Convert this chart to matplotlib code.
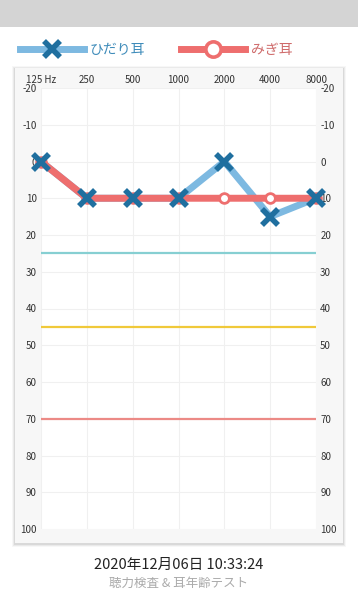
import matplotlib
matplotlib.use("Agg")
import matplotlib.pyplot as plt
from matplotlib.lines import Line2D
from matplotlib.patches import Rectangle

plt.rcParams['font.family'] = ['Noto Sans CJK JP', 'DejaVu Sans']

freq_labels = ["125 Hz", "250", "500", "1000", "2000", "4000", "8000"]
left_ear = [0, 10, 10, 10, 0, 15, 10]
right_ear = [0, 10, 10, 10, 10, 10, 10]
ref_levels = [25, 45, 70]
ref_colors = ['#86cfd2', '#f0c93a', '#ec8a86']
y_ticks = list(range(-20, 101, 10))

W, H = 358, 600
fig = plt.figure(figsize=(W / 100, H / 100), dpi=100)
fig.patch.set_facecolor('white')

def px(x, y, w, h):
    # pixel box (top-left origin) -> figure fraction
    return (x / W, 1 - (y + h) / H, w / W, h / H)

# top grey bar
fig.add_artist(Rectangle(px(0, 0, W, 27)[:2], 1, 27 / H, transform=fig.transFigure,
                         facecolor='#d4d4d4', edgecolor='none', zorder=0))

# card with soft shadow
for i, a in enumerate([0.03, 0.05, 0.07]):
    g = 3 - i
    b = px(15 - g, 68 - g + 1, 328 + 2 * g, 475 + 2 * g)
    fig.add_artist(Rectangle(b[:2], b[2], b[3], transform=fig.transFigure,
                             facecolor='black', alpha=a, edgecolor='none', zorder=0))
b = px(15, 68, 328, 475)
fig.add_artist(Rectangle(b[:2], b[2], b[3], transform=fig.transFigure,
                         facecolor='#f7f7f7', edgecolor='none', zorder=0))

ax = fig.add_axes(px(41, 88, 275, 441))
ax.set_facecolor('white')
x = list(range(len(freq_labels)))

for lvl, c in zip(ref_levels, ref_colors):
    ax.axhline(lvl, color=c, lw=1.6, zorder=2)

blue_line = '#7db9e1'
blue_mark = '#1f6f9f'
red = '#ee6e6e'

ax.plot(x, left_ear, color=blue_line, lw=5, solid_capstyle='round', zorder=3, clip_on=False)
ax.plot(x, right_ear, color=red, lw=5, solid_capstyle='round', zorder=4, clip_on=False,
        marker='o', ms=7, mfc='white', mec=red, mew=2)
ax.plot(x, left_ear, ls='none', marker='x', ms=11, mew=4, color=blue_mark,
        zorder=5, clip_on=False)

ax.set_xlim(0, 6)
ax.set_ylim(100, -20)
ax.set_yticks(y_ticks)
ax.set_yticklabels([str(v) for v in y_ticks])
ax.set_xticks(x)
ax.set_xticklabels(freq_labels)
ax.xaxis.tick_top()
ax.tick_params(axis='x', length=0, pad=2.5, labelsize=7, colors='#333333')
ax.tick_params(axis='y', length=0, pad=3, labelsize=7, colors='#333333',
               left=False, right=False, labelleft=True, labelright=True)
ax.grid(True, color='#f0f0f0', lw=0.8, zorder=1)
for s in ax.spines.values():
    s.set_visible(False)

# legend
handles = [
    Line2D([], [], color=blue_line, lw=5, marker='x', ms=11, mew=4, mec=blue_mark),
    Line2D([], [], color=red, lw=5, marker='o', ms=11, mfc='white', mec=red, mew=2.6),
]
leg = fig.legend(handles, ['ひだり耳', 'みぎ耳'], loc='center left', ncol=2, frameon=False,
                 bbox_to_anchor=(20 / W, 1 - 50 / H), fontsize=10, handlelength=4.6,
                 handletextpad=0.4, columnspacing=2.6, borderpad=0, borderaxespad=0)
leg.get_texts()[0].set_color('#3f8cba')
leg.get_texts()[1].set_color('#cf6b6b')

fig.text(0.5, 1 - 565 / H, '2020年12月06日 10:33:24', ha='center', va='center',
         fontsize=10.5, color='#222222')
fig.text(0.5, 1 - 583 / H, '聴力検査 & 耳年齢テスト', ha='center', va='center',
         fontsize=9, color='#aaaaaa')

fig.savefig('out.png', dpi=100, facecolor='white')
